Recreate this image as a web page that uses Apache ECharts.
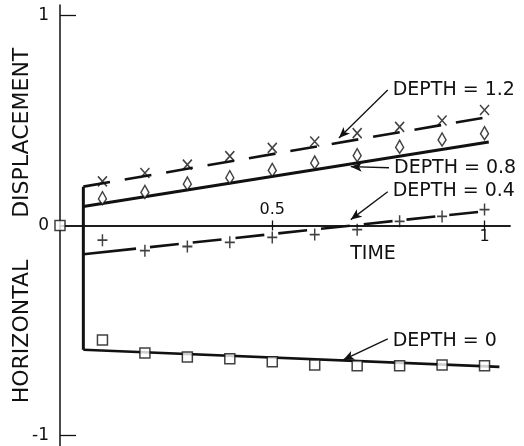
<!DOCTYPE html>
<html>
<head>
<meta charset="utf-8">
<script src="https://cdn.jsdelivr.net/npm/echarts@6/dist/echarts.min.js"></script>
<style>
  html, body { margin: 0; padding: 0; background: #fff; }
  #chart { width: 524px; height: 446px; }
</style>
</head>
<body>
<div id="chart"></div>
<script>
// marker times (dimensionless time)
const markTimes = [0.1, 0.2, 0.3, 0.4, 0.5, 0.6, 0.7, 0.8, 0.9, 1.0];
const depth0Times = [0, 0.1, 0.2, 0.3, 0.4, 0.5, 0.6, 0.7, 0.8, 0.9, 1.0];

// measured points
const depth12Marks = [0.21, 0.25, 0.29, 0.33, 0.37, 0.40, 0.44, 0.47, 0.50, 0.55];
const depth08Marks = [0.13, 0.16, 0.20, 0.23, 0.265, 0.30, 0.335, 0.375, 0.41, 0.44];
const depth04Marks = [-0.07, -0.12, -0.10, -0.08, -0.057, -0.043, -0.02, 0.02, 0.043, 0.076];
const depth0Marks = [0, -0.545, -0.607, -0.626, -0.635, -0.649, -0.664, -0.668, -0.668, -0.664, -0.668];

// fitted lines (start / end)
const fitTimes = [0.055, 1.01];
const depth12Fit = [0.185, 0.517];
const depth08Fit = [0.09, 0.398];
const depth04Fit = [-0.137, 0.07];
const depth0FitTimes = [0.055, 1.035];
const depth0Fit = [-0.592, -0.673];
const stepTime = 0.055;
const stepValues = [0.185, -0.592];

// axis ticks
const xTickTop = [0.5];
const xTickBottom = [1];
const yTicks = [-1, 1];
const yLabels = [-1, 0, 1];

// curve labels
const labelTexts = ['DEPTH = 1.2', 'DEPTH = 0.8', 'DEPTH = 0.4', 'DEPTH = 0'];
const labelAt = [[0.772, 0.645], [0.775, 0.272], [0.772, 0.164], [0.772, -0.552]];
const arrowFrom = [[0.772, 0.645], [0.775, 0.275], [0.772, 0.161], [0.772, -0.54]];
const arrowTo = [[0.657, 0.417], [0.685, 0.28], [0.685, 0.028], [0.667, -0.64]];
const arrowBend = [-0.4, 0, -0.4, -0.3];

const INK = '#111';
const FONT = 'DejaVu Sans';
const Y_MIN = -1.05;
const Y_MAX = 1.05;
const GRID_TOP = 5;
const GRID_H = 441;

const pairs = (xs, ys) => xs.map((x, i) => [x, ys[i]]);

const chart = echarts.init(document.getElementById('chart'), null, { renderer: 'canvas' });

const markerStyle = { color: '#fff', borderColor: INK, borderWidth: 1.5 };
const openStyle = { color: 'transparent', borderColor: INK, borderWidth: 1.6 };

function fitLine(name, xs, ys, dash, width) {
  return {
    name, type: 'line', xAxisIndex: 0, data: pairs(xs, ys),
    showSymbol: false, symbol: 'none', silent: true, z: 2,
    lineStyle: { color: INK, width, type: dash || 'solid' },
  };
}

// time axis sits on displacement = 0; both axes are pulled in from the grid edges
const zeroFromTop = GRID_H * Y_MAX / (Y_MAX - Y_MIN);
const zeroFromBottom = GRID_H - zeroFromTop;

const xBase = {
  type: 'value', min: 0, max: 1.06,
  splitLine: { show: false },
  axisLine: { onZero: false, lineStyle: { color: INK, width: 1.5 } },
};

chart.setOption({
  animation: false,
  backgroundColor: '#fff',
  grid: { left: 60, right: 14, top: GRID_TOP, height: GRID_H, containLabel: false, outerBoundsMode: 'none' },
  xAxis: [
    Object.assign({}, xBase, {
      position: 'bottom', offset: -zeroFromBottom,
      name: 'TIME', nameLocation: 'middle', nameGap: 19, nameMoveOverlap: false,
      nameTextStyle: { color: INK, fontFamily: FONT, fontSize: 19, padding: [0, 0, 0, 176] },
      axisTick: { customValues: xTickTop.concat(xTickBottom), length: 5, lineStyle: { color: INK, width: 1.3 } },
      axisLabel: { customValues: xTickBottom, margin: 3, color: INK, fontFamily: FONT, fontSize: 16 },
    }),
    Object.assign({}, xBase, {
      position: 'top', offset: -zeroFromTop,
      axisTick: { customValues: xTickTop.concat(xTickBottom), length: 5, lineStyle: { color: INK, width: 1.3 } },
      axisLabel: { customValues: xTickTop, margin: 8, color: INK, fontFamily: FONT, fontSize: 16 },
    }),
  ],
  yAxis: {
    type: 'value', min: Y_MIN, max: Y_MAX,
    splitLine: { show: false },
    axisLine: { lineStyle: { color: INK, width: 1.5 } },
    axisTick: { customValues: yTicks, inside: true, length: 16, lineStyle: { color: INK, width: 1.3 } },
    axisLabel: { customValues: yLabels, margin: 11, color: INK, fontFamily: FONT, fontSize: 17 },
    name: 'HORIZONTAL      DISPLACEMENT', nameLocation: 'middle', nameGap: 27, nameMoveOverlap: false,
    nameTextStyle: { color: INK, fontFamily: FONT, fontSize: 22 },
  },
  series: [
    fitLine('depth 1.2 fit', fitTimes, depth12Fit, [27, 15], 2.6),
    fitLine('depth 0.8 fit', fitTimes, depth08Fit, 'solid', 3),
    fitLine('depth 0.4 fit', fitTimes, depth04Fit,
      [53, 14, 29, 14, 29, 14, 29, 14, 29, 14, 29, 14, 29, 14, 29, 14, 29, 14, 29, 14], 2.6),
    fitLine('depth 0 fit', depth0FitTimes, depth0Fit, 'solid', 2.6),
    Object.assign(fitLine('step', [stepTime, stepTime], stepValues, 'solid', 3), {
      markLine: {
        silent: true, animation: false,
        symbol: ['none', 'arrow'], symbolSize: [7, 11],
        label: { show: false },
        lineStyle: { color: INK, width: 1.3, type: 'solid' },
        data: arrowFrom.map((p, i) => [
          { coord: p, lineStyle: { curveness: arrowBend[i] } },
          { coord: arrowTo[i] },
        ]),
      },
      markPoint: {
        silent: true, symbol: 'circle', symbolSize: 0,
        label: { show: true, position: 'right', distance: 5, formatter: '{b}', color: INK, fontFamily: FONT, fontSize: 19 },
        data: labelTexts.map((name, i) => ({ name, coord: labelAt[i] })),
      },
    }),
    {
      name: 'DEPTH = 1.2', type: 'scatter', data: pairs(markTimes, depth12Marks), z: 4,
      symbol: 'path://M0,0L10,11M10,0L0,11', symbolSize: [9, 10], itemStyle: openStyle,
    },
    {
      name: 'DEPTH = 0.8', type: 'scatter', data: pairs(markTimes, depth08Marks), z: 4,
      symbol: 'path://M5,0L10,11L5,20L0,11Z', symbolSize: [8, 13], itemStyle: markerStyle,
    },
    {
      name: 'DEPTH = 0.4', type: 'scatter', data: pairs(markTimes, depth04Marks), z: 4,
      symbol: 'path://M5,0L5,12M0,6L10,6', symbolSize: [10, 12], itemStyle: openStyle,
    },
    {
      name: 'DEPTH = 0', type: 'scatter', data: pairs(depth0Times, depth0Marks), z: 4,
      symbol: 'rect', symbolSize: 10, itemStyle: markerStyle,
    },
  ],
});
</script>
</body>
</html>
